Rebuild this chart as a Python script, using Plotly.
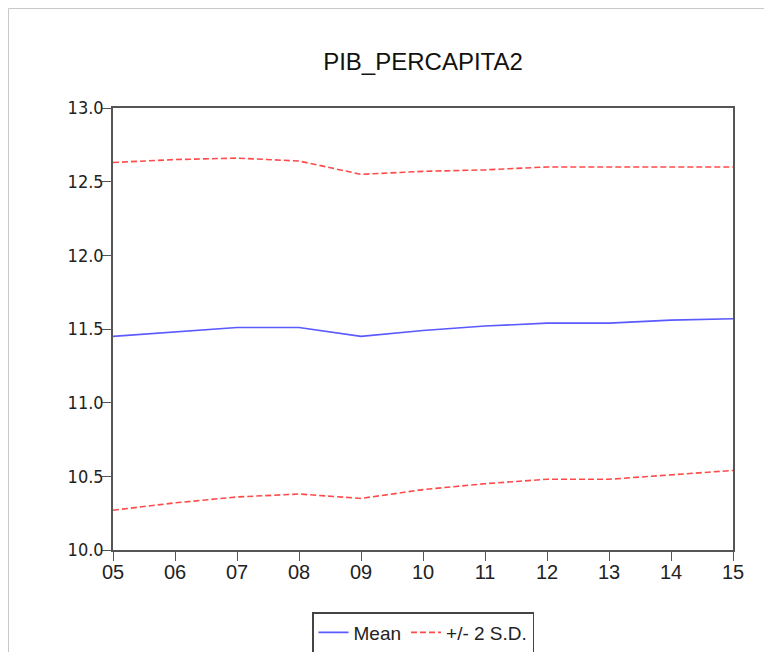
import plotly.graph_objects as go

years = [2005, 2006, 2007, 2008, 2009, 2010, 2011, 2012, 2013, 2014, 2015]
tick_labels = ["05", "06", "07", "08", "09", "10", "11", "12", "13", "14", "15"]
mean_vals = [11.45, 11.48, 11.51, 11.51, 11.45, 11.49, 11.52, 11.54, 11.54, 11.56, 11.57]
upper_vals = [12.63, 12.65, 12.66, 12.64, 12.55, 12.57, 12.58, 12.60, 12.60, 12.60, 12.60]
lower_vals = [10.27, 10.32, 10.36, 10.38, 10.35, 10.41, 10.45, 10.48, 10.48, 10.51, 10.54]
y_ticks = [10.0, 10.5, 11.0, 11.5, 12.0, 12.5, 13.0]

blue = "#5a5aff"
red = "#ff4a4a"

# page has an 8px body offset
W, H = 772, 652
# plot area in figure pixels
L, R, T, B = 105, 725, 100, 542

fig = go.Figure()
fig.add_trace(go.Scatter(x=years, y=mean_vals, mode="lines", name="Mean",
                         line=dict(color=blue, width=1.6)))
fig.add_trace(go.Scatter(x=years, y=upper_vals, mode="lines", name="+/- 2 S.D.",
                         line=dict(color=red, width=1.6, dash="6px,3px")))
fig.add_trace(go.Scatter(x=years, y=lower_vals, mode="lines", name="+/- 2 S.D.",
                         showlegend=False,
                         line=dict(color=red, width=1.6, dash="6px,3px")))

axis_color = "#555555"
fig.update_layout(
    width=W, height=H,
    margin=dict(l=L, r=W - R, t=T, b=H - B, autoexpand=False),
    paper_bgcolor="white", plot_bgcolor="white",
    font=dict(family="Liberation Sans, Arial, sans-serif", color="#222222"),
    title=dict(text="PIB_PERCAPITA2", x=(L + R) / 2 / W, xanchor="center",
               y=1 - 54 / H, yanchor="middle",
               font=dict(size=24, color="#111111")),
    xaxis=dict(range=[2005, 2015], tickvals=years, ticktext=tick_labels,
               showgrid=False, zeroline=False, showline=True, mirror=True,
               linecolor=axis_color, linewidth=1.5, ticks="outside",
               ticklen=9, tickcolor=axis_color, tickwidth=1.2,
               ticklabelstandoff=-6,
               tickfont=dict(size=20, color="#222222")),
    yaxis=dict(range=[10.0, 13.0], tickvals=y_ticks, tickformat=".1f",
               showgrid=False, zeroline=False, showline=True, mirror=True,
               linecolor=axis_color, linewidth=1.5, ticks="outside",
               ticklen=9, tickcolor=axis_color, tickwidth=1.2,
               ticklabelstandoff=-5,
               tickfont=dict(size=18, color="#222222",
                             family="Liberation Sans Narrow, DejaVu Sans Condensed, Liberation Sans")),
    legend=dict(orientation="h", x=(415 - L) / (R - L), xanchor="center",
                y=(B - 604) / (B - T), yanchor="top",
                bordercolor="#444444", borderwidth=1.5,
                font=dict(size=19, color="#222222"),
                tracegroupgap=0),
    showlegend=True,
)

# outer frame lines (top and left) of the original picture
top_y = (B - 0.5) / (B - T)
left_x = (0.5 - L) / (R - L)
fig.add_shape(type="line", xref="paper", yref="paper",
              x0=left_x, x1=(W - L) / (R - L), y0=top_y, y1=top_y,
              line=dict(color="#c8c8c8", width=1))
fig.add_shape(type="line", xref="paper", yref="paper",
              x0=left_x, x1=left_x, y0=top_y, y1=(B - H) / (B - T),
              line=dict(color="#c8c8c8", width=1))

fig.write_html("out.html")
